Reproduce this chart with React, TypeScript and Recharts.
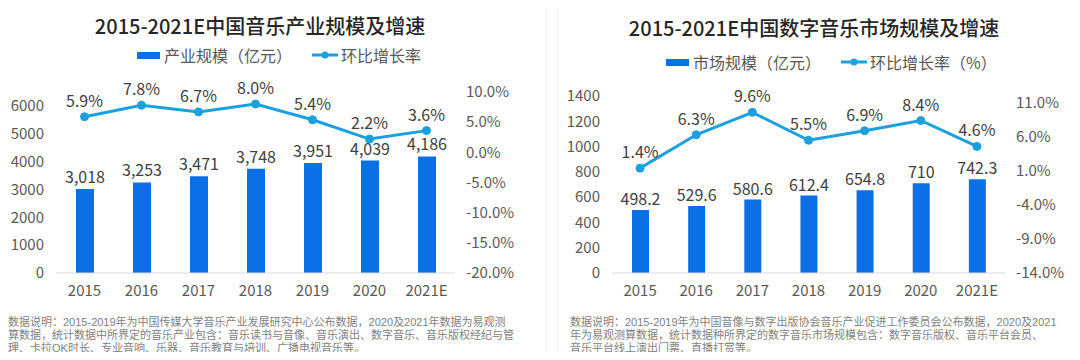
import React from "react"
import {
  ComposedChart,
  Bar,
  Line,
  XAxis,
  YAxis,
  LabelList,
} from "recharts"

const YEARS = ["2015", "2016", "2017", "2018", "2019", "2020", "2021E"]

// 中国音乐产业规模（亿元）及环比增长率
const industryScale = [3018, 3253, 3471, 3748, 3951, 4039, 4186]
const industryGrowth = [5.9, 7.8, 6.7, 8.0, 5.4, 2.2, 3.6]

// 中国数字音乐市场规模（亿元）及环比增长率
const digitalScale = [498.2, 529.6, 580.6, 612.4, 654.8, 710, 742.3]
const digitalGrowth = [1.4, 6.3, 9.6, 5.5, 6.9, 8.4, 4.6]

const leftTicks = [0, 1000, 2000, 3000, 4000, 5000, 6000]
const leftPctTicks = [-20, -15, -10, -5, 0, 5, 10]
const rightTicks = [0, 200, 400, 600, 800, 1000, 1200, 1400]
const rightPctTicks = [-14, -9, -4, 1, 6, 11]

const leftNotes = [
  "数据说明：2015-2019年为中国传媒大学音乐产业发展研究中心公布数据，2020及2021年数据为易观测",
  "算数据，统计数据中所界定的音乐产业包含：音乐读书与音像、音乐演出、数字音乐、音乐版权经纪与管",
  "理、卡拉OK时长、专业音响、乐器、音乐教育与培训、广播电视音乐等。",
]
const rightNotes = [
  "数据说明：2015-2019年为中国音像与数字出版协会音乐产业促进工作委员会公布数据，2020及2021",
  "年为易观测算数据，统计数据种所界定的数字音乐市场规模包含：数字音乐版权、音乐平台会员、",
  "音乐平台线上演出门票、直播打赏等。",
]

const FONT = '"Noto Sans CJK SC", "Noto Sans", sans-serif'
const NOTE_FONT = '"Liberation Sans", "Noto Sans CJK SC", sans-serif'
const BAR = "#0b70e6"
const LINE = "#1aa0de"
const TICK = "#595959"
const LABEL = "#404040"

const tickStyle = { fontSize: 15, fill: TICK, fontFamily: FONT }
const labelStyle = { fontSize: 16, fill: LABEL, fontFamily: FONT }

function LegendRow({ barText, lineText, left, top }: { barText: string; lineText: string; left: number; top: number }) {
  return (
    <div style={{ position: "absolute", left, top, display: "flex", alignItems: "center", fontSize: 16, color: TICK, whiteSpace: "nowrap" }}>
      <span style={{ display: "inline-block", width: 23, height: 7, background: BAR, marginRight: 4 }} />
      <span>{barText}</span>
      <svg width={26} height={10} style={{ marginLeft: 20, marginRight: 3 }}>
        <line x1={0} y1={5} x2={26} y2={5} stroke={LINE} strokeWidth={3} />
        <circle cx={13} cy={5} r={3.5} fill={LINE} />
      </svg>
      <span>{lineText}</span>
    </div>
  )
}

function Notes({ lines, left }: { lines: string[]; left: number }) {
  return (
    <>
      {lines.map((t, i) => (
        <div
          key={i}
          style={{
            position: "absolute",
            left,
            top: 316 + i * 12.8,
            height: 12.8,
            fontSize: 11,
            lineHeight: "12.8px",
            color: "#7f7f7f",
            whiteSpace: "nowrap",
            fontFamily: NOTE_FONT,
          }}
        >
          {t}
        </div>
      ))}
    </>
  )
}

function Panel({
  rows,
  left,
  width,
  plotLeft,
  plotRight,
  plotTop,
  leftDomain,
  leftTickList,
  pctDomain,
  pctTickList,
  fmtBar,
  barLabelOffset,
  barSize,
}: any) {
  return (
    <div style={{ position: "absolute", left, top: 0 }}>
      <ComposedChart
        width={width}
        height={310}
        data={rows}
        margin={{ top: plotTop, left: 0, right: 0, bottom: 0 }}
      >
        <XAxis
          dataKey="name"
          height={37}
          tickLine={false}
          tickSize={0}
          tickMargin={12}
          axisLine={{ stroke: "#d9d9d9" }}
          tick={tickStyle}
          interval={0}
        />
        <YAxis
          yAxisId="left"
          width={plotLeft}
          domain={leftDomain}
          ticks={leftTickList}
          interval={0}
          axisLine={false}
          tickLine={false}
          tickSize={0}
          tickMargin={12}
          tick={tickStyle}
        />
        <YAxis
          yAxisId="right"
          orientation="right"
          width={width - plotRight}
          domain={pctDomain}
          ticks={pctTickList}
          interval={0}
          axisLine={false}
          tickLine={false}
          tickSize={0}
          tickMargin={11}
          tick={{ ...tickStyle, textAnchor: "start" }}
          tickFormatter={(v: number) => v.toFixed(1) + "%"}
        />
        <Bar yAxisId="left" dataKey="scale" fill={BAR} barSize={barSize} isAnimationActive={false}>
          <LabelList dataKey="scale" position="top" offset={barLabelOffset} formatter={fmtBar} style={labelStyle} />
        </Bar>
        <Line
          yAxisId="right"
          dataKey="growth"
          stroke={LINE}
          strokeWidth={3}
          dot={{ r: 4, fill: LINE, stroke: LINE, strokeWidth: 1 }}
          isAnimationActive={false}
        >
          <LabelList
            dataKey="growth"
            position="top"
            offset={10}
            formatter={(v: number) => v.toFixed(1) + "%"}
            style={labelStyle}
          />
        </Line>
      </ComposedChart>
    </div>
  )
}

export default function App() {
  const leftRows = YEARS.map((name, i) => ({ name, scale: industryScale[i], growth: industryGrowth[i] }))
  const rightRows = YEARS.map((name, i) => ({ name, scale: digitalScale[i], growth: digitalGrowth[i] }))

  return (
    <div
      style={{
        position: "relative",
        width: 1080,
        height: 360,
        margin: -8,
        overflow: "hidden",
        background: "#fff",
        fontFamily: FONT,
      }}
    >
      <div style={{ position: "absolute", left: -1, top: 3, width: 546, height: 400, border: "1px solid #eeeeee" }} />
      <div style={{ position: "absolute", left: 557, top: 3, width: 540, height: 400, border: "1px solid #eeeeee" }} />

      <div style={{ position: "absolute", left: 0, width: 520, top: 11, textAlign: "center", fontSize: 20, fontWeight: 500, color: "#262626" }}>
        2015-2021E中国音乐产业规模及增速
      </div>
      <div style={{ position: "absolute", left: 554, width: 520, top: 13, textAlign: "center", fontSize: 20, fontWeight: 500, color: "#262626" }}>
        2015-2021E中国数字音乐市场规模及增速
      </div>

      <LegendRow left={137} top={43} barText="产业规模（亿元）" lineText="环比增长率" />
      <LegendRow left={666} top={50} barText="市场规模（亿元）" lineText="环比增长率（%）" />

      <Panel
        rows={leftRows}
        left={0}
        width={546}
        plotLeft={56}
        plotRight={455}
        plotTop={92}
        leftDomain={[0, 6500]}
        leftTickList={leftTicks}
        pctDomain={[-20, 10]}
        pctTickList={leftPctTicks}
        fmtBar={(v: number) => v.toLocaleString("en-US")}
        barLabelOffset={6}
        barSize={18}
      />
      <Panel
        rows={rightRows}
        left={540}
        width={540}
        plotLeft={72}
        plotRight={465}
        plotTop={96}
        leftDomain={[0, 1400]}
        leftTickList={rightTicks}
        pctDomain={[-14, 12]}
        pctTickList={rightPctTicks}
        fmtBar={(v: number) => String(v)}
        barLabelOffset={5}
        barSize={17}
      />

      <Notes lines={leftNotes} left={8} />
      <Notes lines={rightNotes} left={570} />
    </div>
  )
}
